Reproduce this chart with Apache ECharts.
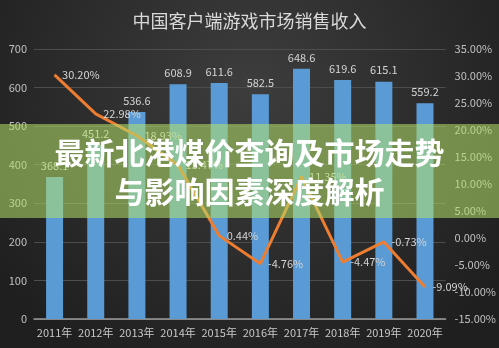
<!DOCTYPE html>
<html><head><meta charset="utf-8">
<script src="https://cdn.jsdelivr.net/npm/echarts@6/dist/echarts.min.js"></script>
<style>html,body{margin:0;padding:0;background:#2a2a2a}#c{width:499px;height:348px}</style>
</head><body><div id="c"></div>
<script>
var title = '中国客户端游戏市场销售收入';
var categories = ['2011年','2012年','2013年','2014年','2015年','2016年','2017年','2018年','2019年','2020年'];
var revenue = [368.1, 451.2, 536.6, 608.9, 611.6, 582.5, 648.6, 619.6, 615.1, 559.2];
var growth = [30.20, 22.98, 18.93, 13.47, 0.44, -4.76, 11.35, -4.47, -0.73, -9.09];
var bannerLines = ['最新北港煤价查询及市场走势', '与影响因素深度解析'];

var chart = echarts.init(document.getElementById('c'));
var font = '"Microsoft YaHei","Noto Sans CJK SC",sans-serif';
chart.setOption({
  animation: false,
  backgroundColor: {type:'radial', x:0.5, y:0.25, r:0.9,
    colorStops:[{offset:0,color:'#3d3d3d'},{offset:1,color:'#1f1f1f'}]},
  title: {text: title, left: 'center', top: 7,
    textStyle:{color:'#d9d9d9', fontSize:18, fontWeight:'normal', fontFamily:font}},
  grid: {left:34, right:53, top:49, bottom:29},
  xAxis: {type:'category', data: categories,
    axisLine:{lineStyle:{color:'#9a9a9a', width:1.5}},
    axisTick:{show:false},
    axisLabel:{color:'#c8c8c8', fontSize:11, margin:8, interval:0, fontFamily:font}},
  yAxis: [
    {type:'value', min:0, max:700, interval:100,
     axisLine:{show:false}, axisTick:{show:false},
     splitLine:{lineStyle:{color:'#4d4d4d'}},
     axisLabel:{color:'#c0c0c0', fontSize:11, margin:7, fontFamily:font}},
    {type:'value', min:-15, max:35, interval:5,
     axisLine:{show:false}, axisTick:{show:false}, splitLine:{show:false},
     axisLabel:{color:'#c0c0c0', fontSize:11, margin:9, fontFamily:font,
       formatter:function(v){return v.toFixed(2)+'%';}}}
  ],
  series: [
    {type:'bar', data: revenue, barWidth:17, itemStyle:{color:'#5B9BD5'},
     label:{show:true, position:'top', distance:6, color:'#d4d4d4', fontSize:11, fontFamily:font}},
    {type:'line', yAxisIndex:1, data: growth, symbol:'circle', symbolSize:1,
     lineStyle:{color:'#ED7D31', width:3}, itemStyle:{color:'#ED7D31'},
     label:{show:true, position:'right', distance:7, color:'#d4d4d4', fontSize:11, fontFamily:font,
       formatter:function(p){return p.value.toFixed(2)+'%';}}}
  ],
  graphic: [
    {type:'rect', left:0, top:124, z:100, shape:{width:499, height:94},
     style:{fill:'rgba(180,225,105,0.55)'}},
    {type:'text', left:'center', top:138, z:101,
     style:{text: bannerLines[0], fill:'#ffffff', font:'bold 30px "Noto Sans CJK SC"',
       shadowColor:'rgba(0,0,0,0.6)', shadowBlur:4, shadowOffsetX:1, shadowOffsetY:1}},
    {type:'text', left:'center', top:177, z:101,
     style:{text: bannerLines[1], fill:'#ffffff', font:'bold 30px "Noto Sans CJK SC"',
       shadowColor:'rgba(0,0,0,0.6)', shadowBlur:4, shadowOffsetX:1, shadowOffsetY:1}}
  ]
});
</script></body></html>
